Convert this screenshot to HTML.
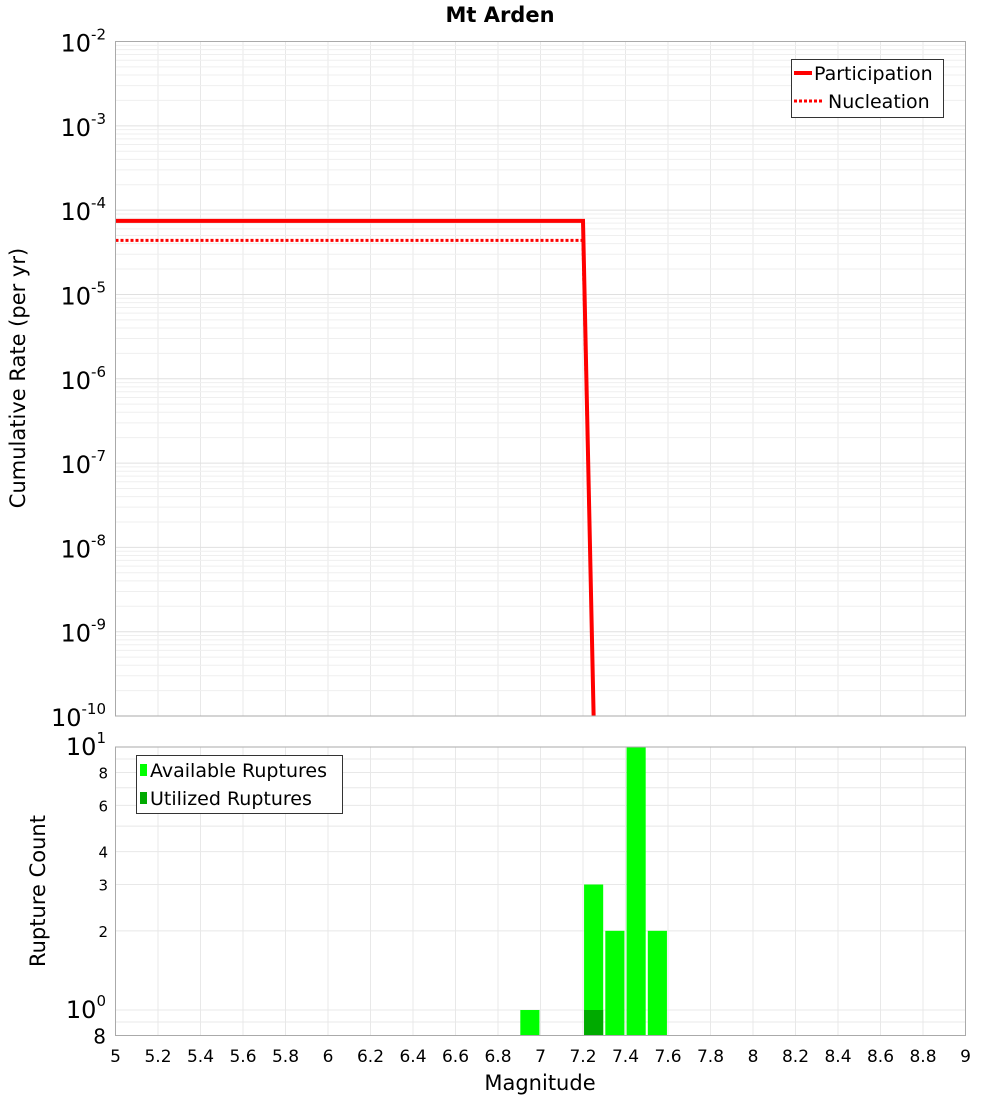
<!DOCTYPE html>
<html><head><meta charset="utf-8"><style>
body{margin:0;background:#fff;font-family:"Liberation Sans","DejaVu Sans",sans-serif}
</style></head><body>
<svg id="chart" width="1000" height="1100" xmlns="http://www.w3.org/2000/svg" font-family="DejaVu Sans, Liberation Sans, sans-serif">
<text x="500" y="22" text-anchor="middle" font-size="21" font-weight="bold">Mt Arden</text>
<g id="topg"></g>
<g id="botg"></g>
<text transform="translate(25,378) rotate(-90)" text-anchor="middle" font-size="21">Cumulative Rate (per yr)</text>
<text transform="translate(45,891) rotate(-90)" text-anchor="middle" font-size="21">Rupture Count</text>
<text x="540" y="1090" text-anchor="middle" font-size="21">Magnitude</text>
<g id="legs"></g>
</svg>
<script>
const mags=[5,7.2,7.25];
const partRates=[7.46e-5,7.46e-5,1e-10];
const nuclMags=[5,7.2,7.25];
const nuclRates=[4.38e-5,4.38e-5,1e-10];
const binMags=[6.95,7.25,7.35,7.45,7.55];
const availCounts=[1,3,2,10,2];
const usedCounts=[0,1,0,0,0];
const xTicks=["5","5.2","5.4","5.6","5.8","6","6.2","6.4","6.6","6.8","7","7.2","7.4","7.6","7.8","8","8.2","8.4","8.6","8.8","9"];
const rateExps=[-2,-3,-4,-5,-6,-7,-8,-9,-10];
const countMinorLabels=[2,3,4,6,8];

const NS="http://www.w3.org/2000/svg";
const L=115.5,R=965.5,T1=41.5,B1=716,T2=747,B2=1035.5;
const xs=m=>L+(m-5)/4*(R-L);
const y1=v=>T1+(-2-Math.log10(v))/8*(B1-T1);
const y2=v=>T2+(1-Math.log10(v))/Math.log10(10/0.8)*(B2-T2);
function el(p,t,a,txt){const e=document.createElementNS(NS,t);for(const k in a)e.setAttribute(k,a[k]);if(txt!==undefined)e.textContent=txt;p.appendChild(e);return e;}
const topG=document.getElementById('topg'),botG=document.getElementById('botg');
for(let i=0;i<xTicks.length;i++){const x=xs(+xTicks[i]);
 const g1=el(topG,'line',{x1:x,x2:x,y1:T1,y2:B1,stroke:'#e8e8e8'});
 
 
 const g2=el(botG,'line',{x1:x,x2:x,y1:T2,y2:B2,stroke:'#e8e8e8'});
 
 
 const t=el(botG,'text',{x:x,y:1062,'text-anchor':'middle','font-size':17},xTicks[i]);
 
 
}
for(let e=-10;e<-2;e++){for(let k=1;k<10;k++){const y=y1(k*Math.pow(10,e));
 el(topG,'line',{x1:L,x2:R,y1:y,y2:y,stroke:k==1?'#e0e0e0':'#efefef'});}}
for(const e of rateExps){const y=y1(Math.pow(10,e));
 const t=el(topG,'text',{x:106,y:y+10,'text-anchor':'end','font-size':24});
 
 
 t.innerHTML='10<tspan dy="-12" font-size="15">'+e+'</tspan>';}
for(const v of [0.8,0.9,1,2,3,4,5,6,7,8,9,10]){const y=y2(v);el(botG,'line',{x1:L,x2:R,y1:y,y2:y,stroke:'#e8e8e8'});}
for(const v of countMinorLabels){const t=el(botG,'text',{x:108,y:y2(v)+6,'text-anchor':'end','font-size':15},String(v));
 
 }
let tt=el(botG,'text',{x:106,y:y2(10)+8,'text-anchor':'end','font-size':24});tt.innerHTML='10<tspan dy="-12" font-size="15">1</tspan>';
tt=el(botG,'text',{x:106,y:y2(1)+8,'text-anchor':'end','font-size':24});tt.innerHTML='10<tspan dy="-12" font-size="15">0</tspan>';
el(botG,'text',{x:106,y:B2+8,'text-anchor':'end','font-size':20},'8');
const defs=el(topG,'defs',{});const cp=el(defs,'clipPath',{id:'c1'});el(cp,'rect',{x:L,y:T1,width:R-L,height:B1-T1});
const line=(ms,vs,extra)=>el(topG,'polyline',Object.assign({points:ms.map((m,i)=>xs(m)+','+y1(vs[i])).join(' '),fill:'none',stroke:'#f00','clip-path':'url(#c1)'},extra));
const nl=line(nuclMags,nuclRates,{'stroke-width':3,'stroke-dasharray':'3,2'});


const pl=line(mags,partRates,{'stroke-width':4});


const hw=0.045;
for(let i=0;i<binMags.length;i++){const x0=xs(binMags[i]-hw),x1=xs(binMags[i]+hw);
 const b=el(botG,'rect',{x:x0,y:y2(availCounts[i]),width:x1-x0,height:B2-y2(availCounts[i]),fill:'#00ff00'});
 
 
 if(usedCounts[i]>0){const u=el(botG,'rect',{x:x0,y:y2(usedCounts[i]),width:x1-x0,height:B2-y2(usedCounts[i]),fill:'#00aa00'});
  
  }
}
el(topG,'rect',{x:L,y:T1,width:R-L,height:B1-T1,fill:'none',stroke:'#aaa'});
el(botG,'rect',{x:L,y:T2,width:R-L,height:B2-T2,fill:'none',stroke:'#aaa'});
// legends
const lg=document.getElementById('legs');
const lt=el(lg,'g',{});


el(lt,'rect',{x:791.5,y:59.5,width:152,height:58,fill:'#fff',stroke:'#333'});
el(lt,'line',{x1:794,y1:73,x2:812,y2:73,stroke:'#f00','stroke-width':4});
const e1=el(lt,'text',{x:814,y:80,'font-size':19},'Participation');


el(lt,'line',{x1:794,y1:101,x2:822,y2:101,stroke:'#f00','stroke-width':3,'stroke-dasharray':'3,2'});
const e2=el(lt,'text',{x:828,y:108,'font-size':19},'Nucleation');


const lb=el(lg,'g',{});


el(lb,'rect',{x:136.5,y:755.5,width:206,height:58,fill:'#fff',stroke:'#333'});
el(lb,'rect',{x:140,y:764,width:7,height:12,fill:'#00ff00'});
const e3=el(lb,'text',{x:150,y:777,'font-size':19},'Available Ruptures');


el(lb,'rect',{x:140,y:792,width:7,height:12,fill:'#00aa00'});
const e4=el(lb,'text',{x:150,y:805,'font-size':19},'Utilized Ruptures');


</script>
</body></html>
